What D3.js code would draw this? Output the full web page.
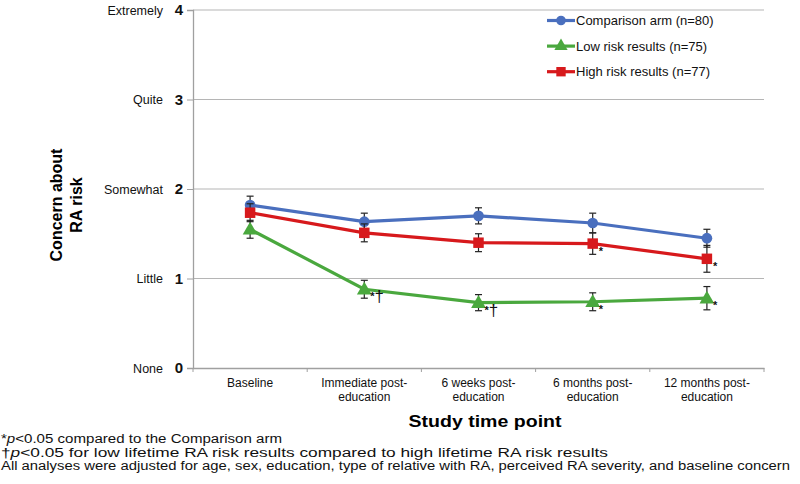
<!DOCTYPE html>
<html lang="en">
<head>
<meta charset="UTF-8">
<title>Concern about RA risk</title>
<script src="https://d3js.org/d3.v7.min.js"></script>
<style>
  body { margin: 0; background: #fff; }
  text { font-family: Arial, "Liberation Sans", sans-serif; }
</style>
</head>
<body>
<div id="chart"></div>
<script>
// data
const timepoints = [["Baseline"], ["Immediate post-", "education"], ["6 weeks post-", "education"],
                    ["6 months post-", "education"], ["12 months post-", "education"]];
const levelNames = ["None", "Little", "Somewhat", "Quite", "Extremely"];
const comparison = [1.82, 1.635, 1.70, 1.62, 1.45];
const comparisonErr = [0.10, 0.095, 0.09, 0.11, 0.10];
const lowRisk = [1.55, 0.88, 0.73, 0.74, 0.78];
const lowRiskErr = [0.10, 0.10, 0.09, 0.10, 0.13];
const highRisk = [1.735, 1.51, 1.40, 1.39, 1.22];
const highRiskErr = [0.10, 0.10, 0.10, 0.12, 0.15];
const lowRiskSig = ["", "*†", "*†", "*", "*"];
const highRiskSig = ["", "", "", "*", "*"];

const series = [
  {name: "Comparison arm (n=80)", vals: comparison, err: comparisonErr, color: "#4a6fbe", shape: "circle", sig: null},
  {name: "Low risk results (n=75)", vals: lowRisk, err: lowRiskErr, color: "#4aa83e", shape: "triangle", sig: lowRiskSig},
  {name: "High risk results (n=77)", vals: highRisk, err: highRiskErr, color: "#d7191c", shape: "square", sig: highRiskSig}
];

const W = 800, H = 484;
const m = {left: 193, right: 36, top: 10, bottom: 116};
const svg = d3.select("#chart").append("svg").attr("width", W).attr("height", H);

const x = d3.scaleBand().domain(d3.range(timepoints.length)).range([m.left, W - m.right]);
const y = d3.scaleLinear().domain([0, 4]).range([H - m.bottom, m.top]);

// gridlines
svg.append("g").selectAll("line").data([1, 2, 3, 4]).enter().append("line")
  .attr("x1", m.left).attr("x2", W - m.right)
  .attr("y1", d => y(d)).attr("y2", d => y(d))
  .attr("stroke", "#b5b5b5").attr("stroke-width", 1.2);

// y axis
const yAxis = svg.append("g").attr("transform", `translate(${m.left},0)`)
  .call(d3.axisLeft(y).ticks(4).tickSize(6).tickFormat(d3.format("d")));
yAxis.select(".domain").attr("stroke", "#a0a0a0").attr("stroke-width", 1.3);
yAxis.selectAll(".tick line").attr("stroke", "#a0a0a0");
yAxis.selectAll(".tick text").attr("font-size", 15).attr("font-weight", "bold").attr("fill", "#111").attr("x", -10);
yAxis.selectAll(".tick").append("text")
  .attr("x", -30).attr("dy", "0.32em").attr("text-anchor", "end")
  .attr("font-size", 12.5).attr("fill", "#111")
  .text(d => levelNames[d]);

// x axis
const xAxis = svg.append("g").attr("transform", `translate(0,${y(0)})`)
  .call(d3.axisBottom(x).tickSize(0).tickFormat(""));
xAxis.select(".domain").attr("stroke", "#a0a0a0").attr("stroke-width", 1.3);
svg.append("g").selectAll("line").data(d3.range(timepoints.length + 1)).enter().append("line")
  .attr("x1", d => m.left + d * x.step()).attr("x2", d => m.left + d * x.step())
  .attr("y1", y(0)).attr("y2", y(0) + 4).attr("stroke", "#a0a0a0");
const xl = svg.append("g").selectAll("text").data(timepoints).enter().append("text")
  .attr("x", (d, i) => x(i) + x.bandwidth() / 2).attr("y", y(0) + 19)
  .attr("text-anchor", "middle").attr("font-size", 12).attr("fill", "#111");
xl.selectAll("tspan").data(d => d).enter().append("tspan")
  .attr("x", function() { return d3.select(this.parentNode).attr("x"); })
  .attr("dy", (d, i) => i ? 13.5 : 0).text(d => d);

// axis titles
svg.append("text").attr("transform", "translate(62,205) rotate(-90)")
  .attr("text-anchor", "middle").attr("font-size", 16).attr("font-weight", "bold")
  .text("Concern about");
svg.append("text").attr("transform", "translate(82,205) rotate(-90)")
  .attr("text-anchor", "middle").attr("font-size", 16).attr("font-weight", "bold")
  .text("RA risk");
svg.append("text").attr("x", 485).attr("y", 427).attr("text-anchor", "middle")
  .attr("font-size", 17).attr("font-weight", "bold")
  .attr("textLength", 153).attr("lengthAdjust", "spacingAndGlyphs").text("Study time point");

// series
const cx = i => x(i) + x.bandwidth() / 2;
const line = d3.line().x((d, i) => cx(i)).y(d => y(d));
const symbolFor = s => s === "circle" ? d3.symbolCircle : s === "square" ? d3.symbolSquare : d3.symbolTriangle;
const symbolSize = s => s === "circle" ? 90 : s === "square" ? 110 : 95;

series.forEach(s => {
  const g = svg.append("g");
  g.append("path").datum(s.vals).attr("d", line)
    .attr("fill", "none").attr("stroke", s.color).attr("stroke-width", 3.2);
  // error bars
  const eb = g.selectAll(".eb").data(s.vals).enter().append("g");
  eb.append("line").attr("x1", (d, i) => cx(i)).attr("x2", (d, i) => cx(i))
    .attr("y1", (d, i) => y(d - s.err[i])).attr("y2", (d, i) => y(d + s.err[i]))
    .attr("stroke", "#222").attr("stroke-width", 1.2);
  [-1, 1].forEach(sg => {
    eb.append("line").attr("x1", (d, i) => cx(i) - 3.5).attr("x2", (d, i) => cx(i) + 3.5)
      .attr("y1", (d, i) => y(d + sg * s.err[i])).attr("y2", (d, i) => y(d + sg * s.err[i]))
      .attr("stroke", "#222").attr("stroke-width", 1.2);
  });
  g.selectAll(".pt").data(s.vals).enter().append("path")
    .attr("transform", (d, i) => `translate(${cx(i)},${y(d) + (s.shape === "triangle" ? 1 : 0)})`)
    .attr("d", d3.symbol().type(symbolFor(s.shape)).size(symbolSize(s.shape)))
    .attr("fill", s.color);
});

// significance marks
series.filter(s => s.sig).forEach(s => {
  const t = svg.append("g").selectAll("text").data(s.vals).enter().append("text")
    .attr("x", (d, i) => cx(i) + 6).attr("y", (d, i) => y(d) + 11)
    .attr("fill", "#111");
  t.append("tspan").attr("font-size", 11).attr("font-weight", "bold")
    .text((d, i) => s.sig[i].includes("*") ? "*" : "");
  t.append("tspan").attr("font-size", 17).attr("dy", 2)
    .text((d, i) => s.sig[i].includes("†") ? "†" : "");
});

// legend
const lg = svg.append("g").attr("transform", "translate(547,20.5)");
series.forEach((s, k) => {
  const r = lg.append("g").attr("transform", `translate(0,${k * 25.6})`);
  r.append("line").attr("x1", 0).attr("x2", 28).attr("stroke", s.color).attr("stroke-width", 3.2);
  r.append("path").attr("transform", "translate(14,0)")
    .attr("d", d3.symbol().type(symbolFor(s.shape)).size(symbolSize(s.shape) * 0.8))
    .attr("fill", s.color);
  r.append("text").attr("x", 29).attr("dy", "0.35em").attr("font-size", 13).attr("fill", "#111").text(s.name);
});

// footnotes
const notes = svg.append("g").attr("font-size", 12.5).attr("fill", "#111");
const n1 = notes.append("text").attr("x", 1).attr("y", 443).attr("textLength", 281).attr("lengthAdjust", "spacingAndGlyphs");
n1.append("tspan").text("*");
n1.append("tspan").attr("font-style", "italic").text("p");
n1.append("tspan").text("<0.05 compared to the Comparison arm");
const n2 = notes.append("text").attr("x", 1).attr("y", 456.5).attr("textLength", 607).attr("lengthAdjust", "spacingAndGlyphs");
n2.append("tspan").text("†");
n2.append("tspan").attr("font-style", "italic").text("p");
n2.append("tspan").text("<0.05 for low lifetime RA risk results compared to high lifetime RA risk results");
notes.append("text").attr("x", 1).attr("y", 470).attr("textLength", 789).attr("lengthAdjust", "spacingAndGlyphs")
  .text("All analyses were adjusted for age, sex, education, type of relative with RA, perceived RA severity, and baseline concern");
</script>
</body>
</html>
